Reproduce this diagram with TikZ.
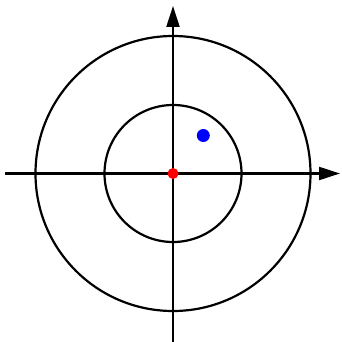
\documentclass[tikz,border=0pt]{standalone}
\usetikzlibrary{arrows.meta}
\begin{document}
\begin{tikzpicture}[x=1pt,y=-1pt,
  axis/.style={line width=2.2pt,-{Triangle[length=21pt,width=13pt]}},
  ring/.style={line width=2.2pt},
  dot/.style={circle,inner sep=0pt,minimum size=#1}]
\useasboundingbox (0,0) rectangle (341,342);
\coordinate (o) at (173,173.5);
\coordinate (l) at (5,173.5);
\coordinate (r) at (340,173.5);
\coordinate (b) at (173,342);
\coordinate (t) at (173,6);
\draw[ring] (o) circle[radius=137.5];
\draw[ring] (o) circle[radius=68.5];
\draw[axis] (l) -- (r);
\draw[axis] (b) -- (t);
\node[dot=11pt,fill=red] (rd) at (o) {};
\node[dot=13pt,fill=blue] (bd) at (203.3,135.5) {};
\end{tikzpicture}
\end{document}
